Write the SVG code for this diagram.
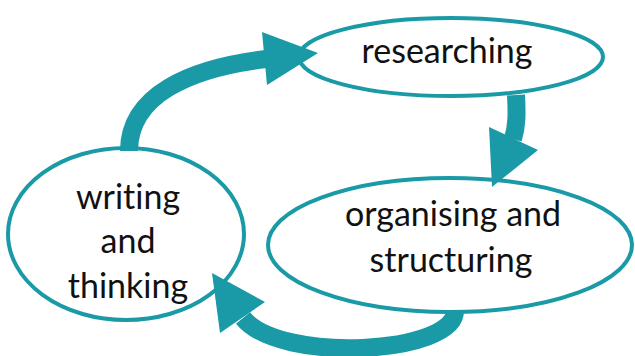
<svg xmlns="http://www.w3.org/2000/svg" width="635" height="356" viewBox="0 0 635 356">
<style>
.node ellipse{fill:#ffffff;stroke:#1a9aa6;stroke-width:4}
.lbl{font-family:Lato,"Liberation Sans",sans-serif;font-size:34px;fill:#111111;text-anchor:middle;font-variant-ligatures:none;font-feature-settings:"liga" 0}
.shaft{fill:none;stroke:#1a9aa6;stroke-width:18}
.head{fill:#1a9aa6}
</style>
<rect width="635" height="356" fill="#ffffff"/>
<g id="researching" class="node">
<ellipse cx="451" cy="57" rx="152" ry="39"/>
<text class="lbl" x="447" y="63">researching</text>
</g>
<g id="organising" class="node">
<ellipse cx="450" cy="245" rx="182" ry="67"/>
<text class="lbl" x="453" y="226">organising and</text>
<text class="lbl" x="451" y="272">structuring</text>
</g>
<g id="writing" class="node">
<ellipse cx="126" cy="234" rx="118" ry="86"/>
<text class="lbl" x="128" y="209">writing</text>
<text class="lbl" x="128" y="253">and</text>
<text class="lbl" x="128" y="298">thinking</text>
</g>
<g id="connectors">
<path class="shaft" d="M129,151 C129,95 190,68 266,59"/>
<polygon class="head" points="262,32 318,53 267,85"/>
<path class="shaft" d="M516,95 C517,115 517,125 513,139"/>
<polygon class="head" points="489,127 538,150 492,187"/>
<path class="shaft" d="M455,311 C455,354 280,364 243,318"/>
<polygon class="head" points="212,273 265,302 220,333"/>
</g>
</svg>
